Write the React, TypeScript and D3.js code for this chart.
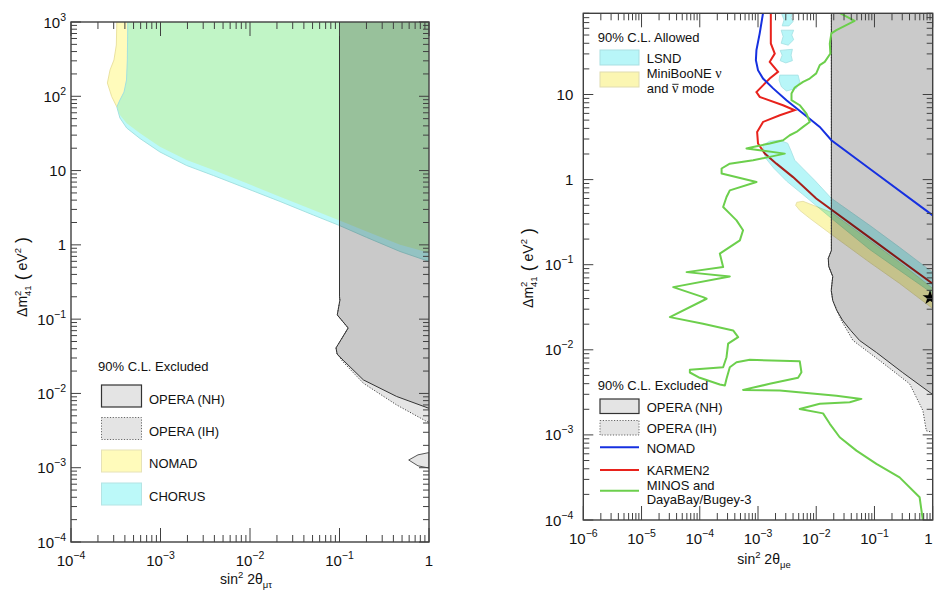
import React from "react";
import * as d3 from "d3";

type P = [number, number];

// ================= LEFT PANEL (sin²2θμτ , Δm²41) =================
const operaNH_L: P[] = [
  [0.1, 1000], [0.1, 0.2], [0.101, 0.18], [0.0944, 0.114], [0.125, 0.076], [0.0914, 0.041],
  [0.094, 0.034], [0.11, 0.028], [0.185, 0.0152], [0.435, 0.0091], [1, 0.0063],
];
const operaIH_L: P[] = [
  [0.1, 1000], [0.1, 0.2], [0.101, 0.18], [0.0944, 0.114], [0.125, 0.076], [0.0914, 0.041],
  [0.094, 0.034], [0.109, 0.0268], [0.185, 0.0137], [0.435, 0.007], [0.94, 0.0042], [1, 0.0041],
];
const operaIsland_L: P[] = [
  [0.593, 0.00127], [0.753, 0.00149], [1, 0.0016], [1, 0.00099], [0.753, 0.00106],
];
const nomadEdge_L: P[] = [
  [3.25e-4, 1000], [3.21e-4, 490], [3.02e-4, 308], [2.73e-4, 226], [2.55e-4, 151], [2.85e-4, 99],
  [3.25e-4, 72], [3.52e-4, 56], [4.19e-4, 43.3], [5.9e-4, 31.8], [9.86e-4, 21], [1.96e-3, 13.9],
  [3.89e-3, 10.2], [9.2e-3, 6.75], [0.0216, 4.45], [0.051, 2.95], [0.1, 2.12], [0.201, 1.51],
  [0.474, 1.0], [1, 0.78],
];
const chorusEdge_L: P[] = [
  [4.31e-4, 1000], [4.26e-4, 308], [4.17e-4, 166], [3.91e-4, 114], [3.52e-4, 89], [3.25e-4, 72],
  [3.52e-4, 51.1], [4.19e-4, 37.4], [5.9e-4, 27.0], [9.86e-4, 17.8], [1.96e-3, 11.7],
  [3.89e-3, 8.59], [9.2e-3, 5.74], [0.0216, 3.84], [0.051, 2.52], [0.1, 1.82], [0.201, 1.26],
  [0.474, 0.815], [1, 0.598],
];
const legendL = ["OPERA (NH)", "OPERA (IH)", "NOMAD", "CHORUS"];

// ================= RIGHT PANEL (sin²2θμe , Δm²41) =================
const operaNH_R: P[] = [
  [0.0182, 100], [0.0182, 0.147], [0.0161, 0.1186], [0.0164, 0.0955], [0.0192, 0.0728],
  [0.0181, 0.0499], [0.0192, 0.038], [0.0225, 0.029], [0.0285, 0.0221], [0.0391, 0.01687],
  [0.0557, 0.01285], [0.108, 0.0093], [0.305, 0.0054], [1, 0.00298],
];
const operaIH_R: P[] = [
  [0.0182, 100], [0.0182, 0.147], [0.0161, 0.1186], [0.0164, 0.0955], [0.0192, 0.0728],
  [0.0181, 0.0499], [0.0192, 0.038], [0.027, 0.0221], [0.0428, 0.01285], [0.1227, 0.00748],
  [0.402, 0.00398], [0.679, 0.00193], [0.776, 0.00112], [1, 0.00107],
];
const nomad_R: P[] = [
  [1.25e-3, 100], [1.07e-3, 52.3], [9.4e-4, 33.2], [9.2e-4, 25.3], [1.0e-3, 19.3], [1.22e-3, 15.4],
  [1.82e-3, 11.8], [3.08e-3, 8.57], [5.94e-3, 5.97], [0.0115, 4.16], [0.0182, 2.9], [0.1, 1.22],
  [1, 0.38],
];
const karmen_R: P[] = [
  [1.66e-3, 100], [1.66e-3, 39.8], [1.94e-3, 30.3], [1.59e-3, 24.2], [2.21e-3, 18.5],
  [1.59e-3, 15.4], [9.4e-4, 10.7], [1.07e-3, 9.37], [2.69e-3, 7.48], [4.27e-3, 6.53],
  [2.37e-3, 5.7], [1.22e-3, 4.76], [9.66e-4, 3.63], [1.0e-3, 2.66], [1.31e-3, 2.02],
  [2.07e-3, 1.54], [4.0e-3, 1.07], [0.01, 0.6], [0.1, 0.189], [1, 0.0597],
];
const minos_R: P[] = [
  [0.0222, 95], [0.0457, 73.5], [0.0222, 57], [0.0182, 52.2], [0.0171, 39.8], [0.0175, 30.3],
  [0.014, 24.2], [0.0115, 22.1], [0.01, 17.7], [0.00773, 15.4], [0.00594, 14.1], [0.00428, 12.1],
  [0.00376, 10.3], [0.00376, 8.57], [0.00521, 7.48], [0.00679, 5.97], [0.00773, 4.76],
  [0.00594, 4.16], [0.00457, 3.63], [0.00351, 3.32], [0.0027, 2.9], [0.00159, 2.66],
  [8.24e-4, 2.42], [6.35e-4, 2.32], [1.07e-3, 2.21], [2.88e-3, 2.02], [1.59e-3, 1.85],
  [8.24e-4, 1.69], [3.28e-4, 1.54], [2.37e-4, 1.35], [2.37e-4, 1.18], [9.42e-4, 0.937],
  [3.28e-4, 0.748], [2.88e-4, 0.624], [2.52e-4, 0.476], [3.28e-4, 0.398], [4.28e-4, 0.332],
  [5.54e-4, 0.254], [4.88e-4, 0.193], [2.21e-4, 0.135], [2.52e-4, 0.0938], [5.94e-5, 0.0818],
  [3.28e-4, 0.0728], [3.5e-5, 0.0545], [1.14e-4, 0.0416], [1.31e-4, 0.0398], [3.07e-5, 0.0242],
  [1.14e-4, 0.0202], [3.74e-4, 0.0169], [4.56e-4, 0.0141], [3.07e-4, 0.0118], [2.88e-4, 0.00818],
  [2.52e-4, 0.00624], [6.76e-5, 0.00582], [6.76e-5, 0.00541], [1.0e-4, 0.00469], [2.21e-4, 0.00391],
  [2.7e-4, 0.0038], [2.88e-4, 0.00456], [3.28e-4, 0.00624], [4.28e-4, 0.00714], [7.23e-4, 0.00762],
  [5.21e-3, 0.00735], [5.57e-3, 0.00545], [4.88e-3, 0.00469], [1.59e-3, 0.00398], [5.54e-4, 0.00338],
  [2.37e-3, 0.00332], [0.0222, 0.00288], [0.0596, 0.00265], [0.0376, 0.00242], [0.0115, 0.00232],
  [5.21e-3, 0.00202], [0.0131, 0.00179], [0.0171, 0.00135], [0.0253, 9.38e-4], [0.049, 6.53e-4],
  [0.108, 4.56e-4], [0.27, 3.17e-4], [0.596, 1.85e-4], [0.679, 9.8e-5],
];
const lsndMain_R: P[] = [
  [1.22e-3, 2.54], [1.59e-3, 2.83], [2.37e-3, 2.9], [3.24e-3, 2.67], [3.66e-3, 2.21],
  [4.28e-3, 1.69], [5.86e-3, 1.36], [9.42e-3, 0.98], [0.0182, 0.603], [0.0828, 0.29],
  [0.27, 0.16], [1, 0.0811], [1, 0.0459], [0.27, 0.0857], [0.0828, 0.151], [0.0182, 0.351],
  [5.86e-3, 0.671], [3.12e-3, 0.955], [1.87e-3, 1.36], [1.36e-3, 1.78], [1.22e-3, 2.21],
];
const lsndIslands_R: P[][] = [
  [[2.37e-3, 16.9], [4.88e-3, 16.9], [5.21e-3, 14.1], [4.57e-3, 11.8], [3.08e-3, 11.0], [2.53e-3, 12.3], [2.3e-3, 14.7]],
  [[2.5e-3, 92], [3.9e-3, 92], [3.7e-3, 80], [4.0e-3, 72], [3.4e-3, 64], [2.6e-3, 64], [2.8e-3, 75]],
  [[2.5e-3, 57], [4.1e-3, 57], [3.8e-3, 50], [4.1e-3, 44], [3.3e-3, 38], [2.5e-3, 40], [2.7e-3, 48]],
  [[2.4e-3, 33], [3.9e-3, 34], [3.7e-3, 29], [3.9e-3, 25], [3.0e-3, 23.5], [2.4e-3, 25], [2.6e-3, 29]],
];
const miniboone_R: P[] = [
  [4.64e-3, 0.541], [5.94e-3, 0.556], [0.0182, 0.412], [0.0828, 0.193], [0.27, 0.1064], [1, 0.0526],
  [1, 0.0306], [0.27, 0.0603], [0.0828, 0.1064], [0.0182, 0.227], [7.73e-3, 0.351], [5.21e-3, 0.435],
  [4.44e-3, 0.499],
];
const bestFit_R: P = [0.9, 0.041];

// ================= scales / style =================
const xL = d3.scaleLog().domain([1e-4, 1]).range([71, 429]);
const yL = d3.scaleLog().domain([1e-4, 1e3]).range([542, 22]);
const xR = d3.scaleLog().domain([1e-6, 1]).range([583.3, 932.7]);
const yR = d3.scaleLog().domain([1e-4, 90]).range([520, 13.3]);

const FONT = "'Liberation Sans', Arial, Helvetica, sans-serif";
const AX = "#404040";
const YEL = "#fffbbb";
const CYA = "#bcf9f9";
const GRN = "#c1f5c6";

function logTicks(min: number, max: number) {
  const out: { v: number; major: boolean; e: number }[] = [];
  for (let e = Math.floor(Math.log10(min)); e <= Math.ceil(Math.log10(max)); e++) {
    for (let m = 1; m <= 9; m++) {
      const v = m * Math.pow(10, e);
      if (v >= min * 0.9999 && v <= max * 1.0001) out.push({ v, major: m === 1, e });
    }
  }
  return out;
}

function TickText({ e }: { e: number }) {
  if (e === 0) return <>1</>;
  if (e === 1) return <>10</>;
  return (
    <>
      10<tspan fontSize={10.5} dy={-7}>{e < 0 ? "\u2212" + Math.abs(e) : String(e)}</tspan>
    </>
  );
}

function Frame({ xs, ys, yGap }: { xs: any; ys: any; yGap: number }) {
  const [x0, x1] = xs.range();
  const [yb, yt] = ys.range();
  const [dx0, dx1] = xs.domain();
  const [dy0, dy1] = ys.domain();
  const xt = logTicks(dx0, dx1);
  const ytk = logTicks(dy0, dy1);
  return (
    <g>
      {xt.map((t, i) => {
        const p = xs(t.v);
        const L = t.major ? 14 : 7;
        return (
          <g key={"x" + i} stroke={AX} strokeWidth={1}>
            <line x1={p} x2={p} y1={yb} y2={yb - L} />
            <line x1={p} x2={p} y1={yt} y2={yt + L} />
          </g>
        );
      })}
      {ytk.map((t, i) => {
        const p = ys(t.v);
        const L = t.major ? 10 : 6;
        return (
          <g key={"y" + i} stroke={AX} strokeWidth={1}>
            <line x1={x0} x2={x0 + L} y1={p} y2={p} />
            <line x1={x1} x2={x1 - L} y1={p} y2={p} />
          </g>
        );
      })}
      <rect x={x0} y={yt} width={x1 - x0} height={yb - yt} fill="none" stroke={AX} strokeWidth={1.4} />
      {xt.filter((t) => t.major).map((t, i) => (
        <text key={"xl" + i} x={Math.min(xs(t.v), 928.5)} y={yb + 24} textAnchor="middle" fontSize={15} fill="#111">
          <TickText e={t.e} />
        </text>
      ))}
      {ytk.filter((t) => t.major).map((t, i) => (
        <text key={"yl" + i} x={x0 - yGap} y={ys(t.v) + 5.5} textAnchor="end" fontSize={15} fill="#111">
          <TickText e={t.e} />
        </text>
      ))}
    </g>
  );
}

function YTitle({ x, y }: { x: number; y: number }) {
  return (
    <text transform={`translate(${x},${y}) rotate(-90)`} textAnchor="middle" fontSize={14} fill="#111">
      Δm<tspan fontSize={9.5} dy={-6}>2</tspan>
      <tspan fontSize={9.5} dx={-5.3} dy={10}>41</tspan>
      <tspan fontSize={18} dy={-3}> (</tspan>
      <tspan fontSize={14} dy={-1}> eV</tspan>
      <tspan fontSize={9.5} dy={-6}>2</tspan>
      <tspan fontSize={18} dy={7}> )</tspan>
    </text>
  );
}

function XTitle({ x, y, sub }: { x: number; y: number; sub: string }) {
  return (
    <text x={x} y={y} textAnchor="middle" fontSize={14} fill="#111">
      sin<tspan fontSize={9.5} dy={-6}>2</tspan>
      <tspan dy={6}> 2θ</tspan>
      <tspan fontSize={9.5} dy={4}>{sub}</tspan>
    </text>
  );
}

export default function App() {
  const lineL = d3.line<P>().x((d) => xL(d[0])).y((d) => yL(d[1]));
  const lineR = d3.line<P>().x((d) => xR(d[0])).y((d) => yR(d[1]));

  const nhPolyL = lineL([...operaNH_L, [1, 1000]]) + "Z";
  const ihPolyL = lineL([...operaIH_L, [1, 1000]]) + "Z";
  const islandL = lineL(operaIsland_L) + "Z";
  const nomadPolyL = lineL([...nomadEdge_L, [1, 1000]]) + "Z";
  const chorusPolyL = lineL([...chorusEdge_L, [1, 1000]]) + "Z";

  const nhPolyR = lineR([...operaNH_R, [1, 100]]) + "Z";
  const ihPolyR = lineR([...operaIH_R, [1, 100]]) + "Z";

  const star = d3.symbol().type(d3.symbolStar).size(70)();

  const fs = 13;
  return (
    <svg width={934} height={592} style={{ position: "absolute", left: 0, top: 0, fontFamily: FONT }}>
      <rect width={934} height={592} fill="#fff" />
      <defs>
        <clipPath id="plotL">
          <rect x={71} y={22} width={358} height={520} />
        </clipPath>
        <clipPath id="plotR">
          <rect x={583.3} y={13.3} width={349.4} height={506.7} />
        </clipPath>
        <clipPath id="chorusClipL">
          <path d={chorusPolyL} />
        </clipPath>
      </defs>

      {/* ---------------- LEFT ---------------- */}
      <g clipPath="url(#plotL)">
        <path d={nomadPolyL} fill={YEL} />
        <path d={chorusPolyL} fill={CYA} />
        <path d={nomadPolyL} fill={GRN} clipPath="url(#chorusClipL)" />
        <path d={lineL(chorusEdge_L) as string} fill="none" stroke="#9edede" strokeWidth={0.9} />
        <path d={lineL(nomadEdge_L.slice(0, 7)) as string} fill="none" stroke="#e8df9a" strokeWidth={0.9} />
        <path d={ihPolyL} fill="#000" fillOpacity={0.1} />
        <path d={nhPolyL} fill="#000" fillOpacity={0.12} />
        <path d={islandL} fill="#000" fillOpacity={0.1} stroke="#444" strokeWidth={0.9} />
        <path d={lineL(operaIH_L) as string} fill="none" stroke="#444" strokeWidth={1} strokeDasharray="1.2,1.6" />
        <path d={lineL(operaNH_L) as string} fill="none" stroke="#333" strokeWidth={1} />
      </g>
      <Frame xs={xL} ys={yL} yGap={5} />
      <XTitle x={246} y={584} sub="μτ" />
      <YTitle x={26.5} y={277} />

      {/* left legend */}
      <g fontSize={fs} fill="#111">
        <text x={98} y={371}>90% C.L. Excluded</text>
        <rect x={101.5} y={385} width={40} height={22} fill="#e4e4e4" stroke="#333" strokeWidth={1.2} />
        <rect x={101.5} y={417.5} width={40} height={22} fill="#e4e4e4" stroke="#666" strokeWidth={1} strokeDasharray="1.2,1.6" />
        <rect x={101.5} y={450} width={40} height={22} fill={YEL} stroke="#e6e2b8" strokeWidth={1} />
        <rect x={101.5} y={483} width={40} height={22} fill={CYA} stroke="#b4e4e4" strokeWidth={1} />
        {legendL.map((s, i) => (
          <text key={s} x={149} y={403.5 + i * 32.4}>
            {s}
          </text>
        ))}
      </g>

      {/* ---------------- RIGHT ---------------- */}
      <g clipPath="url(#plotR)">
        <path d={lineR(karmen_R) as string} fill="none" stroke="#e8221c" strokeWidth={2} />
        <path d={lineR(lsndMain_R) + "Z"} fill="#b8f6f8" stroke="#a3dfe2" strokeWidth={0.8} style={{ mixBlendMode: "multiply" }} />
        {lsndIslands_R.map((isl, i) => (
          <path key={i} d={lineR(isl) + "Z"} fill="#b8f6f8" stroke="#a3dfe2" strokeWidth={0.8} style={{ mixBlendMode: "multiply" }} />
        ))}
        <path d={lineR(miniboone_R) + "Z"} fill="#fbf6b2" stroke="#e2dca0" strokeWidth={0.8} style={{ mixBlendMode: "multiply" }} />
        <path d={ihPolyR} fill="#000" fillOpacity={0.1} />
        <path d={nhPolyR} fill="#000" fillOpacity={0.12} />
        <path d={lineR(operaIH_R) as string} fill="none" stroke="#444" strokeWidth={1} strokeDasharray="1.2,1.6" />
        <path d={lineR(operaNH_R) as string} fill="none" stroke="#333" strokeWidth={1} />
        <path d={lineR(nomad_R) as string} fill="none" stroke="#1630e0" strokeWidth={2} />
        <path d={lineR(minos_R) as string} fill="none" stroke="#6ccf4c" strokeWidth={2} strokeLinejoin="round" />
        <path d={star as string} transform={`translate(${xR(bestFit_R[0])},${yR(bestFit_R[1])})`} fill="#000" />
      </g>
      <Frame xs={xR} ys={yR} yGap={10} />
      <XTitle x={764} y={564} sub="μe" />
      <YTitle x={533} y={268} />

      {/* right legend: allowed */}
      <g fontSize={fs} fill="#111">
        <text x={597.7} y={41.5}>90% C.L. Allowed</text>
        <rect x={600} y={50} width={39} height={15} fill="#b8f6f8" stroke="#a9dfe2" strokeWidth={1} />
        <rect x={600} y={72} width={39} height={15} fill="#fbf6b2" stroke="#e0dcb0" strokeWidth={1} />
        <text x={646.7} y={62.5}>LSND</text>
        <text x={646.7} y={78}>
          MiniBooNE <tspan fontFamily="'Liberation Serif', serif" fontSize={14}>ν</tspan>
        </text>
        <text x={646.7} y={93}>
          and <tspan fontFamily="'Liberation Serif', serif" fontSize={14}>ν</tspan> mode
        </text>
        <line x1={672.3} x2={678.6} y1={84.3} y2={84.3} stroke="#111" strokeWidth={0.9} />
      </g>

      {/* right legend: excluded */}
      <g fontSize={fs} fill="#111">
        <text x={597.7} y={390}>90% C.L. Excluded</text>
        <rect x={600} y={399} width={39} height={14.5} fill="#e4e4e4" stroke="#333" strokeWidth={1.2} />
        <rect x={600} y={420.5} width={39} height={14.5} fill="#e4e4e4" stroke="#666" strokeWidth={1} strokeDasharray="1.2,1.6" />
        <line x1={600} x2={639} y1={447.3} y2={447.3} stroke="#1630e0" strokeWidth={2} />
        <line x1={600} x2={639} y1={470} y2={470} stroke="#e8221c" strokeWidth={2} />
        <line x1={600} x2={639} y1={490.7} y2={490.7} stroke="#6ccf4c" strokeWidth={2} />
        <text x={646.7} y={412}>OPERA (NH)</text>
        <text x={646.7} y={432.5}>OPERA (IH)</text>
        <text x={646.7} y={453}>NOMAD</text>
        <text x={646.7} y={475}>KARMEN2</text>
        <text x={646.7} y={490}>MINOS and</text>
        <text x={646.7} y={503.5}>DayaBay/Bugey-3</text>
      </g>
    </svg>
  );
}
